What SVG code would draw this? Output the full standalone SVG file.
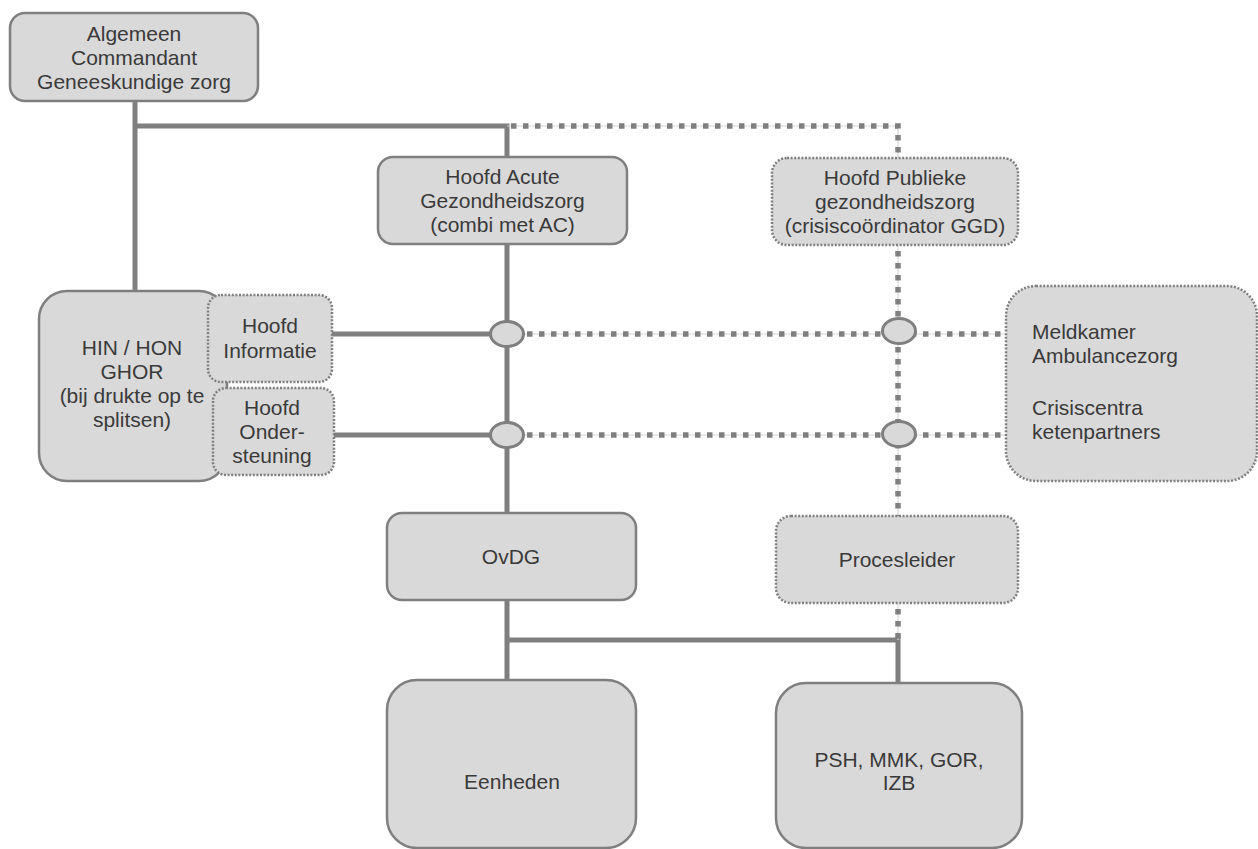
<svg xmlns="http://www.w3.org/2000/svg" width="1258" height="849" viewBox="0 0 1258 849">
<style>
.box{fill:#d9d9d9;stroke:#7f7f7f;stroke-width:2.5}
.dbox{fill:#d9d9d9;stroke:#7f7f7f;stroke-width:2.5;stroke-dasharray:2 1.6}
.t{font-family:"Liberation Sans",Arial,sans-serif;font-size:21px;fill:#3a3a3a;text-anchor:middle}
.tl{font-family:"Liberation Sans",Arial,sans-serif;font-size:21px;fill:#3a3a3a;text-anchor:start}
.solid{stroke:#7f7f7f;stroke-width:5;fill:none}
.thin{stroke:#d6d6d6;stroke-width:1.2;fill:none}
.dot{stroke:#7f7f7f;stroke-width:5.5;stroke-dasharray:5.5 6.5;fill:none}
.jn{fill:#d9d9d9;stroke:#7f7f7f;stroke-width:3}
</style>
<rect width="1258" height="849" fill="#ffffff"/>
<g id="connectors">
  <path class="solid" d="M135 101V291M135 126H507V157M507 244V513M507 600V680M507 640H898V683M332 334H507M334 435H507"/>
  <path class="thin" d="M507 126H898V158M898 245V516M898 603V640M507 334H1006M507 435H1006"/>
  <path class="dot" d="M511 126H898V158"/>
  <path class="dot" d="M898 251V516"/>
  <path class="dot" d="M898 609V640"/>
  <path class="dot" d="M527 334H1006"/>
  <path class="dot" d="M527 435H1006"/>
  <ellipse class="jn" cx="507" cy="334" rx="16.5" ry="12.5"/>
  <ellipse class="jn" cx="507" cy="435" rx="16.5" ry="12.5"/>
  <ellipse class="jn" cx="899" cy="331" rx="16.5" ry="12.5"/>
  <ellipse class="jn" cx="899" cy="434" rx="16.5" ry="12.5"/>
</g>
<g id="algemeen-commandant">
  <rect class="box" x="10" y="13" width="248" height="88" rx="15"/>
  <text class="t" x="134" y="41">Algemeen</text>
  <text class="t" x="134" y="65">Commandant</text>
  <text class="t" x="134" y="89">Geneeskundige zorg</text>
</g>
<g id="hoofd-acute">
  <rect class="box" x="378" y="157" width="249" height="87" rx="15"/>
  <text class="t" x="502.5" y="184">Hoofd Acute</text>
  <text class="t" x="502.5" y="208">Gezondheidszorg</text>
  <text class="t" x="502.5" y="232">(combi met AC)</text>
</g>
<g id="hoofd-publieke">
  <rect class="dbox" x="772" y="158" width="246" height="87" rx="15"/>
  <text class="t" x="895" y="185">Hoofd Publieke</text>
  <text class="t" x="895" y="209">gezondheidszorg</text>
  <text class="t" x="895" y="233">(crisiscoördinator GGD)</text>
</g>
<g id="hin-hon">
  <rect class="box" x="39" y="291" width="188" height="190" rx="28"/>
  <text class="t" x="132" y="355">HIN / HON</text>
  <text class="t" x="132" y="379">GHOR</text>
  <text class="t" x="132" y="403">(bij drukte op te</text>
  <text class="t" x="132" y="427">splitsen)</text>
</g>
<g id="hoofd-informatie">
  <rect class="dbox" x="208" y="295" width="124" height="87" rx="13"/>
  <text class="t" x="270" y="333">Hoofd</text>
  <text class="t" x="270" y="358">Informatie</text>
</g>
<g id="hoofd-ondersteuning">
  <rect class="dbox" x="213" y="388" width="121" height="87" rx="13"/>
  <text class="t" x="272" y="415">Hoofd</text>
  <text class="t" x="272" y="439">Onder-</text>
  <text class="t" x="272" y="463">steuning</text>
</g>
<g id="meldkamer">
  <rect class="dbox" x="1006" y="286" width="251" height="195" rx="30"/>
  <text class="tl" x="1032" y="339">Meldkamer</text>
  <text class="tl" x="1032" y="363">Ambulancezorg</text>
  <text class="tl" x="1032" y="415">Crisiscentra</text>
  <text class="tl" x="1032" y="439">ketenpartners</text>
</g>
<g id="ovdg">
  <rect class="box" x="387" y="513" width="249" height="87" rx="15"/>
  <text class="t" x="511" y="564">OvDG</text>
</g>
<g id="procesleider">
  <rect class="dbox" x="776" y="516" width="242" height="87" rx="15"/>
  <text class="t" x="897" y="567">Procesleider</text>
</g>
<g id="eenheden">
  <rect class="box" x="387" y="680" width="249" height="168" rx="30"/>
  <text class="t" x="512" y="789">Eenheden</text>
</g>
<g id="psh">
  <rect class="box" x="776" y="683" width="246" height="165" rx="30"/>
  <text class="t" x="899" y="767">PSH, MMK, GOR,</text>
  <text class="t" x="899" y="790">IZB</text>
</g>
</svg>
